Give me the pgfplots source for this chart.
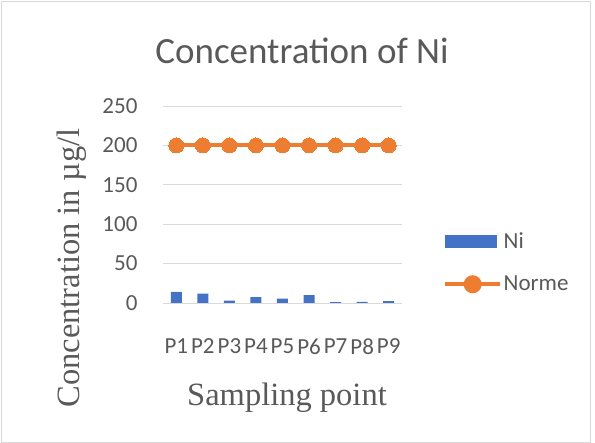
\documentclass[border=0pt]{standalone}
\usepackage{pgfplots}
\pgfplotsset{compat=1.18}
\usepackage{fontspec}
\setmainfont{Carlito}
\newfontfamily\serifont{Liberation Serif}
\definecolor{nib}{HTML}{4472C4}
\definecolor{nor}{HTML}{ED7D31}
\definecolor{txt}{HTML}{595959}
\definecolor{grd}{HTML}{D9D9D9}
\begin{document}
\begin{tikzpicture}[x=1pt,y=1pt]
\path[use as bounding box] (0,0) rectangle (595,443);
\draw[grd,line width=0.8pt] (1,1) rectangle (590,442);
\begin{axis}[
  at={(163pt,140pt)}, anchor=south west,
  scale only axis, width=239pt, height=197pt,
  xmin=-0.5, xmax=8.5, ymin=0, ymax=250,
  ytick={0,50,100,150,200,250},
  xtick={0,...,8},
  xticklabels={P1,P2,P3,P4,P5,P6,P7,P8,P9},
  axis x line*=bottom, axis y line*=left,
  x axis line style={grd,line width=0.8pt,-},
  y axis line style={draw=none},
  ymajorgrids, grid style={grd,line width=0.8pt},
  major tick length=0pt,
  tick label style={font=\fontsize{23}{26}\selectfont, text=txt},
  xticklabel style={yshift=-32pt},
  yticklabel style={xshift=-22pt, anchor=east},
  /pgf/number format/assume math mode=true,
  clip=false,
  legend style={at={(1.157,0.205)}, anchor=west, draw=none, fill=none,
    font=\fontsize{23}{26}\selectfont, text=txt, row sep=22pt,
    /tikz/every even column/.append style={column sep=3pt}},
  legend cell align=left,
]
\addplot[ybar, bar width=11pt, fill=nib, draw=none,
  legend image code/.code={\fill[nib] (0pt,-6.5pt) rectangle (52pt,6.5pt);}]
  coordinates {(0,14) (1,12) (2,3) (3,7.5) (4,5.5) (5,10) (6,1) (7,1.5) (8,2.5)};
\addlegendentry{Ni}
\addplot[nor, line width=4pt, mark=*, mark size=7.5pt, mark options={fill=nor,draw=nor,line width=0pt},
  legend image code/.code={\draw[nor,line width=4pt] (0pt,0pt) -- (55pt,0pt); \fill[nor] (28pt,0pt) circle (7pt);}]
  coordinates {(0,200) (1,200) (2,200) (3,200) (4,200) (5,200) (6,200) (7,200) (8,200)};
\addlegendentry{Norme}
\end{axis}
\node[text=txt, font=\fontsize{37}{42}\selectfont] at (302,443-51) {Concentration of Ni};
\node[text=txt, font=\serifont\fontsize{32.5}{36}\selectfont, rotate=90] at (72,443-268) {Concentration in µg/l};
\node[text=txt, font=\serifont\fontsize{32.5}{36}\selectfont] at (287,443-398) {Sampling point};
\end{tikzpicture}
\end{document}
